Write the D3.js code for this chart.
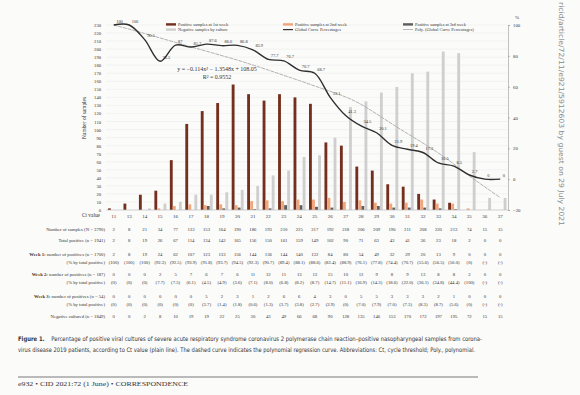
<!DOCTYPE html>
<html>
<head>
<meta charset="utf-8">
<script src="https://cdnjs.cloudflare.com/ajax/libs/d3/7.8.5/d3.min.js"></script>
<style>
  body { margin: 0; background: #fbfbfa; }
  svg text { font-family: "Liberation Serif", "DejaVu Serif", serif; fill: #333; }
  .sans { font-family: "Liberation Sans Narrow", "DejaVu Sans Condensed", "Liberation Sans", sans-serif; }
</style>
</head>
<body>
<script>
// Chart data.
var ctValues = ["11", "13", "14", "15", "16", "17", "18", "19", "20", "21", "22", "23", "24",
                "25", "26", "27", "28", "29", "30", "31", "32", "33", "34", "35", "36", "37"];
var week1 = [2, 8, 19, 24, 62, 107, 123, 133, 156, 144, 136, 144, 140, 132, 84, 80, 54, 49, 32, 29, 20, 13, 9, 0, 0, 0];
var week2 = [0, 0, 0, 2, 5, 7, 6, 7, 6, 11, 12, 11, 13, 13, 15, 10, 12, 9, 8, 9, 13, 8, 8, 2, 0, 0];
var week3 = [0, 0, 0, 0, 0, 0, 5, 2, 3, 1, 2, 6, 6, 4, 3, 0, 5, 5, 3, 3, 3, 2, 1, 0, 0, 0];
var negatives = [0, 0, 2, 8, 10, 19, 19, 22, 25, 30, 43, 49, 66, 68, 90, 128, 135, 146, 153, 170, 172, 197, 195, 72, 15, 15];
var samples = [2, 8, 21, 34, 77, 133, 153, 164, 190, 186, 193, 210, 225, 217, 192, 218, 206, 209, 196, 211, 208, 220, 213, 74, 15, 15];
var totalPositive = [2, 8, 19, 26, 67, 114, 134, 142, 165, 156, 150, 161, 159, 149, 102, 90, 71, 63, 43, 41, 36, 23, 18, 2, 0, 0];
var week1Pct = ["(100)", "(100)", "(100)", "(92.3)", "(92.5)", "(93.9)", "(91.8)", "(93.7)", "(94.5)", "(92.3)", "(90.7)", "(89.4)", "(88.1)",
                "(88.6)", "(82.4)", "(88.9)", "(76.1)", "(77.8)", "(74.4)", "(70.7)", "(55.6)", "(56.5)", "(50.0)", "(0)", "(-)", "(-)"];
var week2Pct = ["(0)", "(0)", "(0)", "(7.7)", "(7.5)", "(6.1)", "(4.5)", "(4.9)", "(3.6)", "(7.1)", "(8.0)", "(6.8)", "(8.2)",
                "(8.7)", "(14.7)", "(11.1)", "(16.9)", "(14.3)", "(18.6)", "(22.0)", "(36.1)", "(34.8)", "(44.4)", "(100)", "(-)", "(-)"];
var week3Pct = ["(0)", "(0)", "(0)", "(0)", "(0)", "(0)", "(3.7)", "(1.4)", "(1.8)", "(0.6)", "(1.3)", "(3.7)", "(3.8)",
                "(2.7)", "(2.9)", "(0)", "(7.0)", "(7.9)", "(7.0)", "(7.3)", "(8.3)", "(8.7)", "(5.6)", "(0)", "(-)", "(-)"];
var globalPct = [100, 100, 90.5, 76.5, 87, 85.7, 87.6, 86.6, 86.8, 83.9, 77.7, 76.7, 70.7, 68.7, 53.1, 41.3, 34.5, 30.1, 21.9, 19.4, 17.3, 10.5, 8.5, 2.7, 0, 0];
var polyPct = [100, 97.3, 94.5, 91.6, 88.7, 85.8, 83, 80.1, 77.3, 74, 70.8, 67.3, 64, 60.4, 57, 53.5, 48.8, 42.3, 35.8, 29.5, 23.5, 17, 10, 2, -5, -12];
var leftTicks = [0, 10, 20, 30, 40, 50, 60, 70, 80, 90, 100, 110, 120, 130, 140, 150, 160, 170, 180, 190, 200, 210, 220, 230];
var rightTicks = [-20, 0, 20, 40, 60, 80, 100];

// Page and plot geometry.
var width = 580, height = 395;
var plot = {left: 106, right: 508, top: 25, bottom: 210};

var svg = d3.select("body")
            .append("svg")
            .attr("width", width)
            .attr("height", height);

var x = d3.scaleBand().domain(ctValues).range([plot.left, plot.right]);
var xSub = d3.scaleBand().domain([0, 1, 2, 3]).range([2, x.bandwidth() - 1.5]).paddingInner(0.06);
var yLeft = d3.scaleLinear().domain([0, 230]).range([plot.bottom, plot.top]);
var yRight = d3.scaleLinear().domain([-20, 100]).range([plot.bottom, plot.top]);

var barSeries = [week1, week2, week3, negatives];
var barColors = ["#74301f", "#f0a57a", "#5e5e5e", "#cfcfcf"];

// gridlines
svg.append("g")
   .selectAll("line")
   .data(leftTicks.slice(1))
   .join("line")
   .attr("x1", plot.left).attr("x2", plot.right)
   .attr("y1", d => yLeft(d)).attr("y2", d => yLeft(d))
   .attr("stroke", "#ececec").attr("stroke-width", 0.6);

// bars
var groups = svg.append("g")
                .selectAll("g")
                .data(barSeries)
                .join("g")
                .attr("fill", (d, i) => barColors[i]);

groups.each(function(values, s) {
  d3.select(this).selectAll("rect")
    .data(values)
    .join("rect")
    .attr("x", (d, i) => x(ctValues[i]) + xSub(s))
    .attr("width", xSub.bandwidth())
    .attr("y", d => yLeft(d))
    .attr("height", d => yLeft(0) - yLeft(d));
});

// baseline
svg.append("line")
   .attr("x1", plot.left).attr("x2", plot.right)
   .attr("y1", plot.bottom).attr("y2", plot.bottom)
   .attr("stroke", "#bdbdbd").attr("stroke-width", 0.7);

// left axis
var leftAxis = svg.append("g")
                  .attr("transform", "translate(" + (plot.left - 2) + ",0)")
                  .call(d3.axisLeft(yLeft).tickValues(leftTicks).tickSize(0).tickPadding(3));
leftAxis.select(".domain").remove();
leftAxis.selectAll("text").style("font-size", "4.6px").style("font-family", "Liberation Serif, serif").attr("fill", "#444");

// right axis
var rightAxis = svg.append("g")
                   .attr("transform", "translate(" + plot.right + ",0)")
                   .call(d3.axisRight(yRight).tickValues(rightTicks).tickSize(2).tickPadding(3)
                           .tickFormat(d => d < 0 ? "\u221220" : d));
rightAxis.select(".domain").attr("stroke", "#9a9a9a").attr("stroke-width", 0.6);
rightAxis.selectAll("line").attr("stroke", "#9a9a9a").attr("stroke-width", 0.6);
rightAxis.selectAll("text").style("font-size", "4.8px").style("font-family", "Liberation Serif, serif").attr("fill", "#444");

svg.append("text")
   .attr("x", 515).attr("y", 19)
   .style("font-size", "5px")
   .text("%");

svg.append("text")
   .attr("transform", "translate(86,118) rotate(-90)")
   .attr("text-anchor", "middle")
   .style("font-size", "5.4px")
   .text("Number of samples");

// polynomial trend (clipped to plot)
svg.append("clipPath").attr("id", "plotClip")
   .append("rect")
   .attr("x", plot.left).attr("y", plot.top)
   .attr("width", plot.right - plot.left).attr("height", plot.bottom - plot.top);

var lineX = (d, i) => x(ctValues[i]) + x.bandwidth() / 2;

svg.append("path")
   .datum(polyPct)
   .attr("clip-path", "url(#plotClip)")
   .attr("fill", "none")
   .attr("stroke", "#a9a9a9")
   .attr("stroke-width", 0.9)
   .attr("stroke-dasharray", "4,0.8")
   .attr("d", d3.line().x(lineX).y(d => yRight(d)).curve(d3.curveBasis));

// global curve percentages
svg.append("path")
   .datum(globalPct)
   .attr("fill", "none")
   .attr("stroke", "#2f2f2f")
   .attr("stroke-width", 1.4)
   .attr("d", d3.line().x(lineX).y(d => yRight(d)).curve(d3.curveCatmullRom.alpha(0.5)));

svg.append("g")
   .selectAll("text")
   .data(globalPct)
   .join("text")
   .attr("x", (d, i) => lineX(d, i) + 2.5)
   .attr("y", d => yRight(d) - 2.5)
   .style("font-size", "4.4px")
   .text(d => d);

// regression equation
svg.append("text")
   .attr("x", 217).attr("y", 71)
   .attr("text-anchor", "middle")
   .style("font-size", "6px")
   .text("y = \u22120.114x\u00b2 \u2212 1.3548x + 108.05");
svg.append("text")
   .attr("x", 217).attr("y", 78.5)
   .attr("text-anchor", "middle")
   .style("font-size", "6px")
   .text("R\u00b2 = 0.9552");

// legend
var legendItems = [
  {label: "Positive samples at 1st week", color: barColors[0], col: 0, row: 0, h: 2.4},
  {label: "Positive samples at 2nd week", color: barColors[1], col: 1, row: 0, h: 2.4},
  {label: "Positive samples at 3rd week", color: barColors[2], col: 2, row: 0, h: 2.4},
  {label: "Negative samples by culture", color: barColors[3], col: 0, row: 1, h: 2.4},
  {label: "Global Curve Percentages", color: "#2f2f2f", col: 1, row: 1, h: 1.2},
  {label: "Poly. (Global Curve Percentages)", color: "#a9a9a9", col: 2, row: 1, h: 0.8}
];
var legendCols = [166, 283, 403];

var legend = svg.append("g")
                .selectAll("g")
                .data(legendItems)
                .join("g")
                .attr("transform", d => "translate(" + legendCols[d.col] + "," + (26 + d.row * 5.2) + ")");
legend.append("rect")
      .attr("x", 0).attr("y", d => -1.6 - d.h / 2)
      .attr("width", 10).attr("height", d => d.h)
      .attr("fill", d => d.color);
legend.append("text")
      .attr("x", 12).attr("y", 0)
      .style("font-size", "4.4px")
      .text(d => d.label);

// table under the chart
var tableRows = [
  {label: "Number of samples (N = 3790)", values: samples, y: 231},
  {label: "Total positive (n = 1941)", values: totalPositive, y: 242},
  {label: "number of positives (n = 1700)", bold: "Week 1: ", values: week1, y: 256},
  {label: "(% by total positive)", values: week1Pct, y: 263.5},
  {label: "number of positives (n = 187)", bold: "Week 2: ", values: week2, y: 276},
  {label: "(% by total positive)", values: week2Pct, y: 283.5},
  {label: "number of positives (n = 54)", bold: "Week 3: ", values: week3, y: 298},
  {label: "(% by total positive)", values: week3Pct, y: 305.5},
  {label: "Negative cultured (n = 1849)", values: negatives, y: 318}
];

svg.append("g")
   .selectAll("text")
   .data(ctValues)
   .join("text")
   .attr("x", (d, i) => lineX(d, i))
   .attr("y", 218)
   .attr("text-anchor", "middle")
   .style("font-size", "5px")
   .text(d => d);
svg.append("text")
   .attr("x", 100).attr("y", 217)
   .attr("text-anchor", "end")
   .style("font-size", "5.4px")
   .text("Ct value");

var rows = svg.append("g")
              .selectAll("g")
              .data(tableRows)
              .join("g");
var rowLabel = rows.append("text")
                   .attr("x", 105)
                   .attr("y", d => d.y)
                   .attr("text-anchor", "end")
                   .style("font-size", "4.7px");
rowLabel.filter(d => d.bold)
        .append("tspan")
        .style("font-weight", "bold")
        .text(d => d.bold);
rowLabel.append("tspan").text(d => d.label);

rows.each(function(row) {
  d3.select(this).selectAll("text.val")
    .data(row.values)
    .join("text")
    .attr("class", "val")
    .attr("x", (d, i) => lineX(d, i))
    .attr("y", row.y)
    .attr("text-anchor", "middle")
    .style("font-size", "4.7px")
    .text(d => d);
});

// caption and footer
var caption = svg.append("text").attr("class", "sans")
                 .attr("x", 18).attr("y", 341)
                 .style("font-size", "6.2px");
caption.append("tspan").style("font-weight", "bold").text("Figure 1.");
caption.append("tspan").attr("dx", 7)
       .text("Percentage of positive viral cultures of severe acute respiratory syndrome coronavirus 2 polymerase chain reaction\u2013positive nasopharyngeal samples from corona-");
caption.attr("textLength", 464).attr("lengthAdjust", "spacingAndGlyphs");

svg.append("text").attr("class", "sans")
   .attr("x", 18).attr("y", 351.5)
   .attr("textLength", 457).attr("lengthAdjust", "spacingAndGlyphs")
   .style("font-size", "6.2px")
   .text("virus disease 2019 patients, according to Ct value (plain line). The dashed curve indicates the polynomial regression curve. Abbreviations: Ct, cycle threshold; Poly., polynomial.");

svg.append("line")
   .attr("x1", 18).attr("x2", 478)
   .attr("y1", 377).attr("y2", 377)
   .attr("stroke", "#444").attr("stroke-width", 0.7);

svg.append("text")
   .attr("x", 18).attr("y", 386)
   .attr("textLength", 170).attr("lengthAdjust", "spacingAndGlyphs")
   .style("font-size", "6.3px")
   .text("e932 \u2022 CID 2021:72 (1 June) \u2022 CORRESPONDENCE");

// download stamp on the right margin
svg.append("text").attr("class", "sans")
   .attr("transform", "translate(559,2) rotate(90)")
   .attr("textLength", 224).attr("lengthAdjust", "spacingAndGlyphs")
   .style("font-size", "7px")
   .attr("fill", "#8a8a8a")
   .style("fill", "#8a8a8a")
   .text("ricid/article/72/11/e921/5912603 by guest on 29 July 2021");
</script>
</body>
</html>
